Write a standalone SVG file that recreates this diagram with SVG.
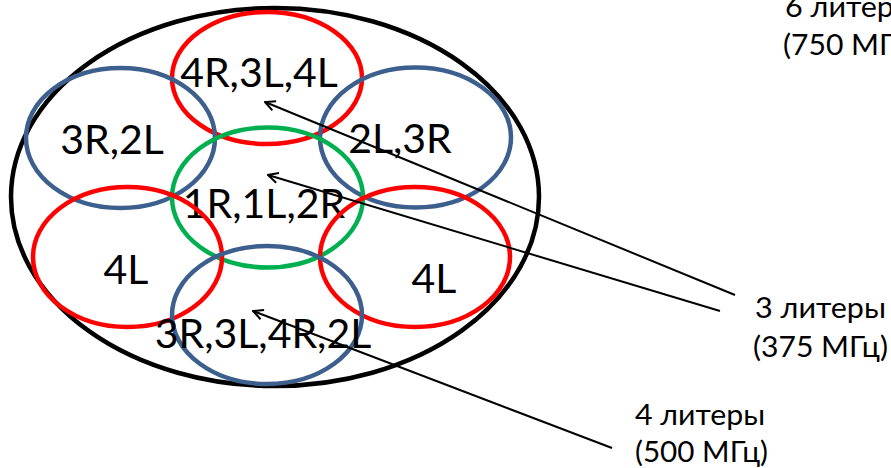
<svg xmlns="http://www.w3.org/2000/svg" width="891" height="468" viewBox="0 0 891 468">
<style>
.ring{fill:none;stroke-width:4.5}
.red{stroke:#FF0000}
.blue{stroke:#3D5F8D}
.green{stroke:#00B050}
.outer{fill:none;stroke:#000;stroke-width:4.5}
.lbl{font-family:Lato,"Liberation Sans",sans-serif;font-size:41px;fill:#000;text-anchor:middle}
.note{font-family:Lato,"Liberation Sans",sans-serif;font-size:29px;fill:#000}
.conn{stroke:#000;stroke-width:2;fill:none;marker-end:url(#arr)}
</style>
<defs>
<marker id="arr" viewBox="0 0 12 12" refX="11" refY="6" markerWidth="12" markerHeight="12" markerUnits="userSpaceOnUse" orient="auto">
<path d="M1,1 L11,6 L1,11" fill="none" stroke="#000" stroke-width="2"/>
</marker>
</defs>
<rect width="891" height="468" fill="#fff"/>
<g id="outer"><ellipse class="outer" cx="275" cy="197" rx="264" ry="189"/></g>
<g id="top-red"><ellipse class="ring red" cx="267" cy="78" rx="95" ry="66"/><text class="lbl" x="259" y="87">4R,3L,4L</text></g>
<g id="left-blue"><ellipse class="ring blue" cx="120.5" cy="138" rx="94.5" ry="70"/><text class="lbl" x="112" y="154">3R,2L</text></g>
<g id="right-blue"><ellipse class="ring blue" cx="415.5" cy="137.5" rx="95.5" ry="70"/><text class="lbl" x="400" y="153">2L,3R</text></g>
<g id="center-green"><ellipse class="ring green" cx="267.5" cy="197.5" rx="95.5" ry="70"/><text class="lbl" x="264" y="218">1R,1L,2R</text></g>
<g id="left-red"><ellipse class="ring red" cx="127.5" cy="257" rx="94.5" ry="70"/><text class="lbl" x="126" y="284">4L</text></g>
<g id="right-red"><ellipse class="ring red" cx="415" cy="257" rx="95" ry="70"/><text class="lbl" x="434" y="293">4L</text></g>
<g id="bottom-blue"><ellipse class="ring blue" cx="267" cy="315" rx="95" ry="69"/><text class="lbl" x="263" y="348">3R,3L,4R,2L</text></g>
<g id="note6"><text class="note" x="785" y="17" textLength="131" lengthAdjust="spacingAndGlyphs">6 литеры</text><text class="note" x="783" y="55" textLength="135" lengthAdjust="spacingAndGlyphs">(750 МГц)</text></g>
<g id="note3"><text class="note" x="755" y="318" textLength="131" lengthAdjust="spacingAndGlyphs">3 литеры</text><text class="note" x="753" y="357" textLength="135" lengthAdjust="spacingAndGlyphs">(375 МГц)</text></g>
<g id="note4"><text class="note" x="635" y="425" textLength="130" lengthAdjust="spacingAndGlyphs">4 литеры</text><text class="note" x="635" y="462" textLength="133" lengthAdjust="spacingAndGlyphs">(500 МГц)</text></g>
<g id="connectors">
<line class="conn" x1="735" y1="295" x2="265" y2="102"/>
<line class="conn" x1="720" y1="311" x2="268" y2="175"/>
<line class="conn" x1="612" y1="448" x2="253" y2="311"/>
</g>
</svg>
